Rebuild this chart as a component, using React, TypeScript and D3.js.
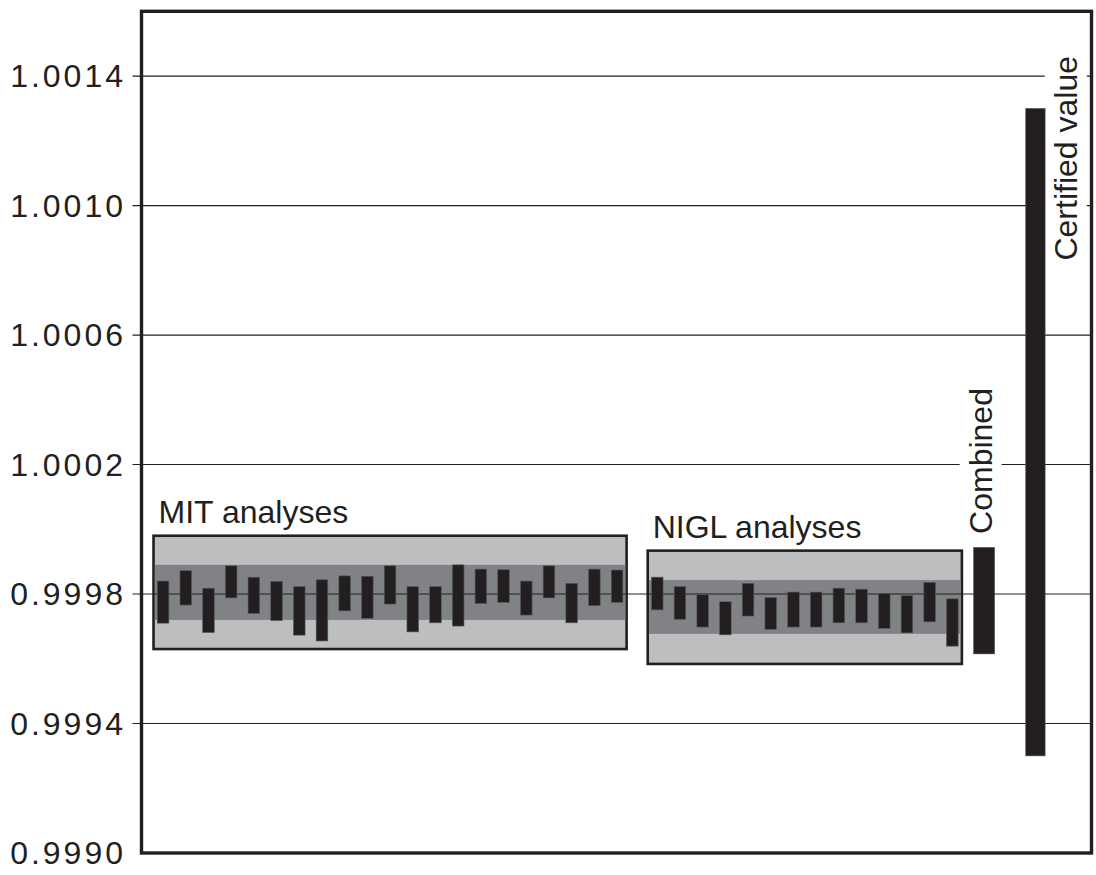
import React, { useEffect, useRef } from 'react';
import * as d3 from 'd3';

// individual analyses (error bar low / high ends)
const mitHigh = [0.99984, 0.999872, 0.999818, 0.999887, 0.999852, 0.999839, 0.999823, 0.999844, 0.999856, 0.999855, 0.999887, 0.999823, 0.999823, 0.99989, 0.999877, 0.999875, 0.99984, 0.999887, 0.999833, 0.999877, 0.999874];
const mitLow = [0.99971, 0.999766, 0.999681, 0.999788, 0.99974, 0.999718, 0.999673, 0.999655, 0.999748, 0.999725, 0.999769, 0.999683, 0.999711, 0.999701, 0.999771, 0.999774, 0.999735, 0.999788, 0.999711, 0.999764, 0.999774];
const niglHigh = [0.999852, 0.999823, 0.999798, 0.999776, 0.999833, 0.999789, 0.999806, 0.999806, 0.999818, 0.999815, 0.999802, 0.999795, 0.999836, 0.999785];
const niglLow = [0.999751, 0.999722, 0.999698, 0.999674, 0.999732, 0.999691, 0.999698, 0.999698, 0.999711, 0.999711, 0.999694, 0.99968, 0.999714, 0.999639];

// group envelopes: outer range and inner band
const mitRange = [0.99963, 0.99998];
const mitBand = [0.99972, 0.99989];
const niglRange = [0.999584, 0.999934];
const niglBand = [0.999677, 0.999843];

const combined = [0.999615, 0.999944];
const certified = [0.9993, 1.0013];

const yTicks = [0.999, 0.9994, 0.9998, 1.0002, 1.0006, 1.001, 1.0014];
const groupLabels = ['MIT analyses', 'NIGL analyses'];

const FONT = "'Liberation Sans', Arial, Helvetica, sans-serif";
const DARK = '#231f20';

const App = () => {
  const ref = useRef<SVGSVGElement>(null);

  useEffect(() => {
    const svg = d3.select(ref.current);
    svg.selectAll('*').remove();

    const left = 141.5;
    const right = 1091.5;
    const top = 11.3;
    const bottom = 853;

    const x = d3.scaleLinear().domain([0, 41.85]).range([left, right]);
    const y = d3.scaleLinear().domain([0.999, 1.0016]).range([bottom, top]);

    const mitPos = mitHigh.map((_, i) => 0.95 + i);
    const niglPos = niglHigh.map((_, i) => 22.72 + i);
    const combinedPos = 37.12;
    const certifiedPos = 39.38;
    const pad = 0.42;

    const groups = [
      { pos: mitPos, range: mitRange, band: mitBand, label: groupLabels[0] },
      { pos: niglPos, range: niglRange, band: niglBand, label: groupLabels[1] },
    ];

    // boxes
    groups.forEach((g) => {
      const x0 = x(g.pos[0] - pad);
      const x1 = x(g.pos[g.pos.length - 1] + pad);
      svg
        .append('rect')
        .attr('x', x0)
        .attr('y', y(g.range[1]))
        .attr('width', x1 - x0)
        .attr('height', y(g.range[0]) - y(g.range[1]))
        .attr('fill', '#bcbec0')
        .attr('stroke', DARK)
        .attr('stroke-width', 2.6);
      svg
        .append('rect')
        .attr('x', x0 + 1.3)
        .attr('y', y(g.band[1]))
        .attr('width', x1 - x0 - 2.6)
        .attr('height', y(g.band[0]) - y(g.band[1]))
        .attr('fill', '#808285');
      svg
        .append('text')
        .attr('x', x0 + 5)
        .attr('y', y(g.range[1]) - 13)
        .attr('font-family', FONT)
        .attr('font-size', 32)
        .attr('fill', DARK)
        .text(g.label);
    });

    // gridlines + tick marks
    svg
      .append('g')
      .selectAll('line')
      .data(yTicks.slice(1))
      .enter()
      .append('line')
      .attr('x1', left - 9)
      .attr('x2', right)
      .attr('y1', (d) => y(d))
      .attr('y2', (d) => y(d))
      .attr('stroke', DARK)
      .attr('stroke-width', 1.2);

    svg
      .append('g')
      .selectAll('text')
      .data(yTicks)
      .enter()
      .append('text')
      .attr('x', 126)
      .attr('y', (d) => y(d))
      .attr('dy', 11)
      .attr('text-anchor', 'end')
      .attr('font-family', FONT)
      .attr('font-size', 32)
      .attr('letter-spacing', 3)
      .attr('fill', DARK)
      .text((d) => d3.format('.4f')(d));

    // rotated labels with white backing
    const rotLabels = [
      { text: 'Combined', x: x(combinedPos) + 7.5, y: y(combined[1]) - 13.5 },
      { text: 'Certified value', x: x(certifiedPos) + 41.3, y: y(1.00083) },
    ];
    rotLabels.forEach((l) => {
      const bg = svg.append('rect').attr('fill', 'white');
      const t = svg
        .append('text')
        .attr('transform', `translate(${l.x},${l.y}) rotate(-90)`)
        .attr('font-family', FONT)
        .attr('font-size', 32)
        .attr('fill', DARK)
        .text(l.text);
      const b = (t.node() as SVGTextElement).getBBox();
      // rotated -90: text length goes up, ascent to the left
      bg.attr('x', l.x + b.y - 3)
        .attr('y', l.y - b.x - b.width - 3)
        .attr('width', b.height + 6)
        .attr('height', b.width + 6);
    });

    // individual bars
    const bars = [
      ...mitPos.map((p, i) => ({ p, lo: mitLow[i], hi: mitHigh[i], w: 11.6 })),
      ...niglPos.map((p, i) => ({ p, lo: niglLow[i], hi: niglHigh[i], w: 11.6 })),
      { p: combinedPos, lo: combined[0], hi: combined[1], w: 21 },
      { p: certifiedPos, lo: certified[0], hi: certified[1], w: 19.4 },
    ];
    svg
      .append('g')
      .selectAll('rect')
      .data(bars)
      .enter()
      .append('rect')
      .attr('x', (d) => x(d.p) - d.w / 2)
      .attr('width', (d) => d.w)
      .attr('y', (d) => y(d.hi))
      .attr('height', (d) => y(d.lo) - y(d.hi))
      .attr('fill', DARK)
      .attr('stroke', '#58595b')
      .attr('stroke-width', 0.6);

    // frame
    svg
      .append('rect')
      .attr('x', left)
      .attr('y', top)
      .attr('width', right - left)
      .attr('height', bottom - top)
      .attr('fill', 'none')
      .attr('stroke', DARK)
      .attr('stroke-width', 3.4);
  }, []);

  return (
    <div style={{ position: 'absolute', left: 0, top: 0 }}>
      <svg ref={ref} width={1096} height={875} style={{ display: 'block', background: 'white' }} />
    </div>
  );
};

export default App;
